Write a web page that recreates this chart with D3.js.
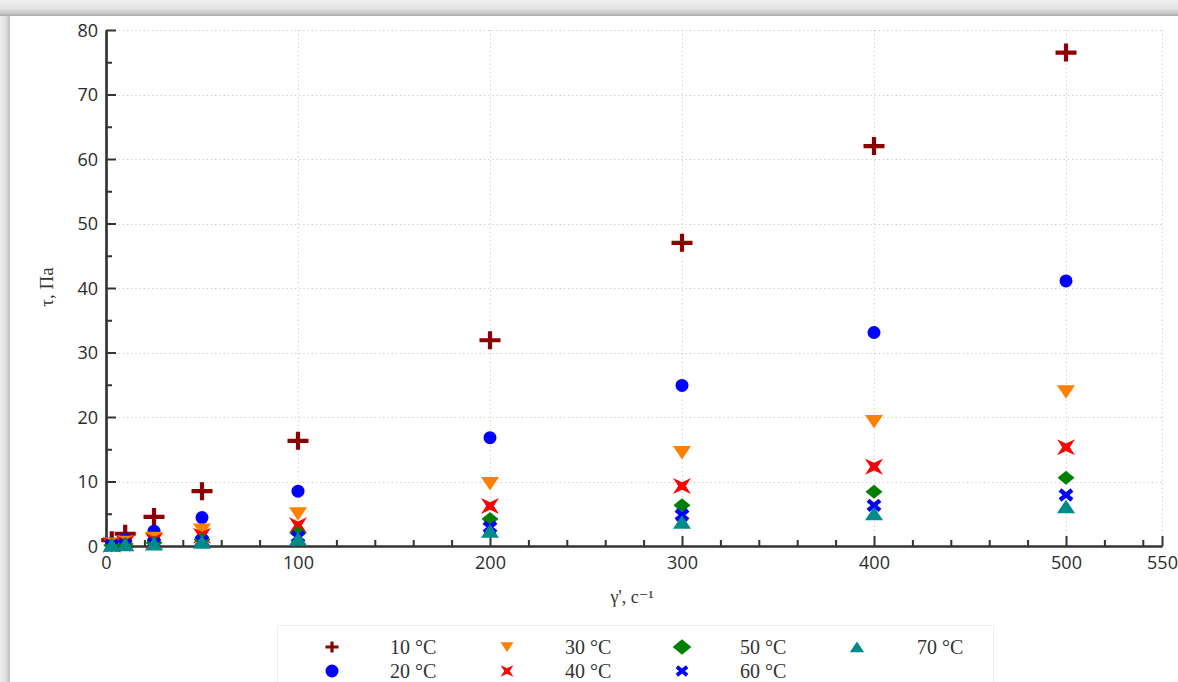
<!DOCTYPE html>
<html>
<head>
<meta charset="utf-8">
<script src="https://cdn.jsdelivr.net/npm/d3@7"></script>
<style>
  html, body { margin: 0; padding: 0; background: #fff; }
  svg { display: block; }
</style>
</head>
<body>
<svg id="chart" width="1178" height="682"></svg>
<script>
// Shear rate (s^-1) and shear stress (Pa) measured at each temperature
const shearRates = [3, 10, 25, 50, 100, 200, 300, 400, 500];
const tau10 = [0.9, 1.9, 4.5, 8.5, 16.3, 31.9, 47.0, 62.0, 76.5];
const tau20 = [0.4, 1.0, 2.3, 4.4, 8.5, 16.8, 24.9, 33.1, 41.1];
const tau30 = [0.3, 0.6, 1.2, 2.5, 5.0, 9.7, 14.5, 19.3, 23.9];
const tau40 = [0.2, 0.4, 0.8, 1.6, 3.2, 6.2, 9.3, 12.3, 15.3];
const tau50 = [0.1, 0.3, 0.5, 1.0, 2.0, 4.2, 6.3, 8.4, 10.6];
const tau60 = [0.1, 0.2, 0.4, 0.8, 1.4, 2.9, 4.8, 6.3, 7.9];
const tau70 = [0.1, 0.2, 0.3, 0.6, 1.1, 2.3, 3.7, 5.0, 6.1];

const seriesNames = ["10 °C", "20 °C", "30 °C", "40 °C", "50 °C", "60 °C", "70 °C"];
const seriesValues = [tau10, tau20, tau30, tau40, tau50, tau60, tau70];

const xMajorTicks = [0, 100, 200, 300, 400, 500, 550];
const yMajorTicks = [0, 10, 20, 30, 40, 50, 60, 70, 80];

// marker styles per series (legScale: marker size inside the legend)
const markerStyles = [
  { shape: "plus",    color: "#8b0000", legScale: 0.62 },
  { shape: "circle",  color: "#0000ff", legScale: 1.0 },
  { shape: "triDown", color: "#ff8000", legScale: 0.72 },
  { shape: "star4",   color: "#ff0000", legScale: 0.72 },
  { shape: "diamond", color: "#008000", legScale: 1.1 },
  { shape: "cross",   color: "#0000ff", legScale: 0.85 },
  { shape: "triUp",   color: "#008b8b", legScale: 0.8 }
];

const svg = d3.select("#chart");
const W = 1178, H = 682;

// ---- panel shadow along the top and left edges ----
const defs = svg.append("defs");
const gTop = defs.append("linearGradient").attr("id", "shTop")
  .attr("x1", 0).attr("y1", 0).attr("x2", 0).attr("y2", 1);
gTop.append("stop").attr("offset", "0%").attr("stop-color", "#f0f0f0");
gTop.append("stop").attr("offset", "55%").attr("stop-color", "#e2e2e2");
gTop.append("stop").attr("offset", "85%").attr("stop-color", "#c4c4c4");
gTop.append("stop").attr("offset", "100%").attr("stop-color", "#a9a9a9");
const gLeft = defs.append("linearGradient").attr("id", "shLeft")
  .attr("x1", 0).attr("y1", 0).attr("x2", 1).attr("y2", 0);
gLeft.append("stop").attr("offset", "0%").attr("stop-color", "#eeeeee");
gLeft.append("stop").attr("offset", "60%").attr("stop-color", "#dedede");
gLeft.append("stop").attr("offset", "100%").attr("stop-color", "#bdbdbd");

svg.append("rect").attr("width", W).attr("height", H).attr("fill", "#fff");
svg.append("rect").attr("x", 0).attr("y", 0).attr("width", 10).attr("height", H).attr("fill", "url(#shLeft)");
svg.append("rect").attr("x", 0).attr("y", 0).attr("width", W).attr("height", 16).attr("fill", "url(#shTop)");

// ---- scales ----
const x = d3.scaleLinear().domain([0, 550]).range([106, 1162]);
const y = d3.scaleLinear().domain([0, 80]).range([546, 30]);

// ---- dotted grid ----
const grid = svg.append("g").attr("stroke", "#c8c8c8").attr("stroke-width", 1)
  .attr("stroke-dasharray", "1.2,3");
grid.selectAll("line.h").data(yMajorTicks.filter(d => d > 0)).join("line")
  .attr("x1", x(0)).attr("x2", x(550))
  .attr("y1", d => Math.round(y(d)) + 0.5).attr("y2", d => Math.round(y(d)) + 0.5);
grid.selectAll("line.v").data(xMajorTicks.filter(d => d > 0)).join("line")
  .attr("y1", y(80)).attr("y2", y(0))
  .attr("x1", d => Math.round(x(d)) + 0.5).attr("x2", d => Math.round(x(d)) + 0.5);

// ---- axes (ticks point into the plot) ----
const tickFont = "'Open Sans', 'DejaVu Sans', sans-serif";
const xMinor = d3.range(20, 550, 20).filter(d => d % 100 !== 0);
const yMinor = d3.range(5, 80, 10);

const xAxisMinor = svg.append("g").attr("transform", `translate(0,${y(0)})`)
  .call(d3.axisBottom(x).tickValues(xMinor).tickSizeInner(-6).tickSizeOuter(0).tickFormat(""));
const xAxis = svg.append("g").attr("transform", `translate(0,${y(0)})`)
  .call(d3.axisBottom(x).tickValues(xMajorTicks).tickSizeInner(-10).tickSizeOuter(0).tickPadding(8));
const yAxisMinor = svg.append("g").attr("transform", `translate(${x(0)},0)`)
  .call(d3.axisLeft(y).tickValues(yMinor).tickSizeInner(-6).tickSizeOuter(0).tickFormat(""));
const yAxis = svg.append("g").attr("transform", `translate(${x(0)},0)`)
  .call(d3.axisLeft(y).tickValues(yMajorTicks).tickSizeInner(-10).tickSizeOuter(0).tickPadding(8));

[xAxisMinor, xAxis, yAxisMinor, yAxis].forEach(g => {
  g.selectAll("path.domain").attr("stroke", "#333").attr("stroke-width", 2.2);
  g.selectAll(".tick line").attr("stroke", "#333").attr("stroke-width", 2);
  g.selectAll(".tick text").attr("fill", "#2b2b2b").style("font-family", tickFont).style("font-size", "18px");
});
xAxis.selectAll(".tick text").attr("dy", "0.85em");
yAxis.selectAll(".tick text").attr("dy", "0.36em");

// ---- axis titles ----
const serif = "'Liberation Serif', 'DejaVu Serif', serif";
svg.append("text").attr("x", 632).attr("y", 603).attr("text-anchor", "middle")
  .attr("fill", "#333").style("font-family", serif).style("font-size", "18px")
  .text("γ', с⁻¹");
svg.append("text").attr("transform", "translate(53,287) rotate(-90)").attr("text-anchor", "middle")
  .attr("fill", "#333").style("font-family", serif).style("font-size", "19px")
  .text("τ, Па");

// ---- marker shapes ----
function markerPath(shape, s) {
  const p = d3.path();
  switch (shape) {
    case "plus":
      p.moveTo(-10.5 * s, 0); p.lineTo(10.5 * s, 0);
      p.moveTo(0, -9 * s); p.lineTo(0, 9 * s);
      break;
    case "circle":
      p.moveTo(6.5 * s, 0); p.arc(0, 0, 6.5 * s, 0, 2 * Math.PI);
      break;
    case "triDown":
      p.moveTo(-9 * s, -6.5 * s); p.lineTo(9 * s, -6.5 * s); p.lineTo(0, 7 * s); p.closePath();
      break;
    case "triUp":
      p.moveTo(-9 * s, 6.5 * s); p.lineTo(9 * s, 6.5 * s); p.lineTo(0, -7 * s); p.closePath();
      break;
    case "diamond":
      p.moveTo(0, -7 * s); p.lineTo(8.5 * s, 0); p.lineTo(0, 7 * s); p.lineTo(-8.5 * s, 0); p.closePath();
      break;
    case "star4": {
      const a = 9 * s, b = 8 * s, i = 3.8 * s;
      p.moveTo(-a, -b); p.lineTo(0, -i); p.lineTo(a, -b); p.lineTo(i, 0);
      p.lineTo(a, b); p.lineTo(0, i); p.lineTo(-a, b); p.lineTo(-i, 0); p.closePath();
      break;
    }
    case "cross":
      p.moveTo(-6 * s, -5 * s); p.lineTo(6 * s, 5 * s);
      p.moveTo(6 * s, -5 * s); p.lineTo(-6 * s, 5 * s);
      break;
  }
  return p.toString();
}
function styleMarker(sel, st, s) {
  const stroked = st.shape === "plus" || st.shape === "cross";
  sel.attr("d", markerPath(st.shape, s))
    .attr("fill", stroked ? "none" : st.color)
    .attr("stroke", stroked ? st.color : "none")
    .attr("stroke-width", st.shape === "plus" ? 4.2 * Math.max(s, 0.75) : 4.4 * s);
}

// ---- data points ----
const pts = svg.append("g");
seriesValues.forEach((vals, k) => {
  const st = markerStyles[k];
  pts.append("g").selectAll("path")
    .data(shearRates.map((g, j) => [g, vals[j]]))
    .join("path")
    .attr("transform", d => `translate(${x(d[0])},${y(d[1])})`)
    .call(sel => styleMarker(sel, st, 1));
});

// ---- legend ----
const leg = svg.append("g");
leg.append("rect").attr("x", 277.5).attr("y", 625.5).attr("width", 716).attr("height", 70)
  .attr("fill", "#fff").attr("stroke", "#eeeeee");
const legCols = [{ mx: 332, tx: 390 }, { mx: 507, tx: 565 }, { mx: 682, tx: 740 }, { mx: 857, tx: 917 }];
const legRows = [647, 671];
seriesNames.forEach((name, k) => {
  const c = legCols[Math.floor(k / 2)], r = legRows[k % 2];
  leg.append("path").attr("transform", `translate(${c.mx},${r})`)
    .call(sel => styleMarker(sel, markerStyles[k], markerStyles[k].legScale));
  leg.append("text").attr("x", c.tx).attr("y", r).attr("dy", "0.35em")
    .attr("fill", "#333").style("font-family", serif).style("font-size", "20px")
    .text(name);
});
</script>
</body>
</html>
